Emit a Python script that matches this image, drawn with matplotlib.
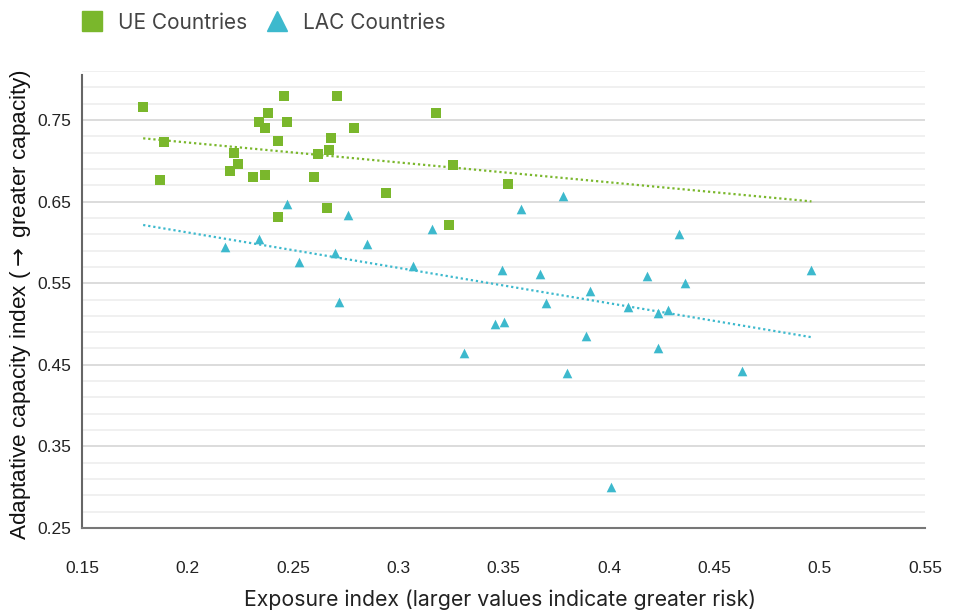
import matplotlib
matplotlib.use("Agg")
import matplotlib.pyplot as plt
from matplotlib.lines import Line2D
import numpy as np

# data
ue_x = [0.179, 0.246, 0.271, 0.238, 0.234, 0.247, 0.237, 0.279, 0.318, 0.268,
        0.243, 0.189, 0.222, 0.267, 0.262, 0.224, 0.326, 0.220, 0.231, 0.237,
        0.260, 0.187, 0.294, 0.266, 0.243, 0.324, 0.352]
ue_y = [0.766, 0.780, 0.780, 0.759, 0.748, 0.747, 0.740, 0.740, 0.759, 0.728,
        0.724, 0.723, 0.710, 0.713, 0.708, 0.696, 0.695, 0.688, 0.680, 0.682,
        0.680, 0.676, 0.661, 0.642, 0.631, 0.621, 0.671]

lac_x = [0.378, 0.358, 0.276, 0.316, 0.433, 0.285, 0.270, 0.253, 0.307, 0.349,
         0.496, 0.367, 0.418, 0.436, 0.391, 0.272, 0.370, 0.409, 0.428, 0.423,
         0.350, 0.346, 0.389, 0.423, 0.331, 0.380, 0.463, 0.401, 0.218, 0.234,
         0.247]
lac_y = [0.657, 0.641, 0.634, 0.617, 0.610, 0.598, 0.587, 0.576, 0.571, 0.566,
         0.566, 0.561, 0.559, 0.550, 0.540, 0.527, 0.526, 0.521, 0.517, 0.514,
         0.503, 0.500, 0.485, 0.471, 0.465, 0.440, 0.442, 0.300, 0.594, 0.604,
         0.647]

x_ticks = [0.15, 0.2, 0.25, 0.3, 0.35, 0.4, 0.45, 0.5, 0.55]
y_ticks = [0.25, 0.35, 0.45, 0.55, 0.65, 0.75]

green = "#7ab72c"
teal = "#3db9cd"

fig = plt.figure(figsize=(9.57, 6.15), dpi=100)
ax = fig.add_axes([0.0857, 0.1415, 0.8812, 0.743])

ax.scatter(ue_x, ue_y, marker="s", s=48, color=green, linewidths=0, zorder=3)
ax.scatter(lac_x, lac_y, marker="^", s=48, color=teal, linewidths=0, zorder=3)

# linear trend lines over the whole data range
xs = np.array([min(ue_x + lac_x), max(ue_x + lac_x)])
for xx, yy, c in [(ue_x, ue_y, green), (lac_x, lac_y, teal)]:
    k, b = np.polyfit(xx, yy, 1)
    ax.plot(xs, k * xs + b, linestyle=(0, (1, 1.3)), lw=1.6, color=c, zorder=2)

ax.set_xlim(0.15, 0.55)
ax.set_ylim(0.25, 0.81)
ax.set_xticks(x_ticks)
ax.set_xticklabels([f"{t:g}" for t in x_ticks])
ax.set_yticks(y_ticks)
ax.set_yticklabels([f"{t:g}" for t in y_ticks])
ax.set_yticks(np.arange(0.27, 0.812, 0.02), minor=True)

ax.grid(axis="y", which="major", color="#d9d9d9", lw=1.3, zorder=0)
ax.grid(axis="y", which="minor", color="#efefef", lw=1.3, zorder=0)
ax.set_axisbelow(True)

for s in ["top", "right"]:
    ax.spines[s].set_visible(False)
ax.spines["left"].set_color("#666666")
ax.spines["left"].set_linewidth(1.5)
ax.spines["left"].set_bounds(0.25, 0.805)
ax.spines["bottom"].set_color("#777777")
ax.spines["bottom"].set_linewidth(1.5)

tick_font = ["Liberation Sans", "DejaVu Sans"]
ax.tick_params(axis="both", which="both", length=0, colors="#222222")
ax.tick_params(axis="x", pad=23.5)
ax.tick_params(axis="y", pad=7.5)
for lab in ax.get_xticklabels() + ax.get_yticklabels():
    lab.set_family(tick_font)
    lab.set_fontsize(12.5)

ax.set_xlabel("Exposure index (larger values indicate greater risk)",
              fontsize=15.3, color="#222222", family=["Inter", "DejaVu Sans"])
ax.xaxis.set_label_coords(0.496, -0.135)
ax.set_ylabel("Adaptative capacity index ($\\rightarrow$ greater capacity)",
              fontsize=16.2, color="#111111",
              family=["Liberation Sans", "DejaVu Sans"])
ax.yaxis.set_label_coords(-0.058, 0.49)

handles = [
    Line2D([], [], marker="s", color=green, linestyle="none", markersize=14),
    Line2D([], [], marker="^", color=teal, linestyle="none", markersize=15),
]
leg = fig.legend(handles, ["UE Countries", "LAC Countries"], ncol=2,
                 loc="upper left", bbox_to_anchor=(0.062, 1.01), frameon=False,
                 handlelength=1.3, handletextpad=0.6, columnspacing=0.8,
                 prop={"family": "Inter", "size": 15})
for t in leg.get_texts():
    t.set_color("#444444")

fig.savefig("out.png", dpi=100)
plt.close(fig)
